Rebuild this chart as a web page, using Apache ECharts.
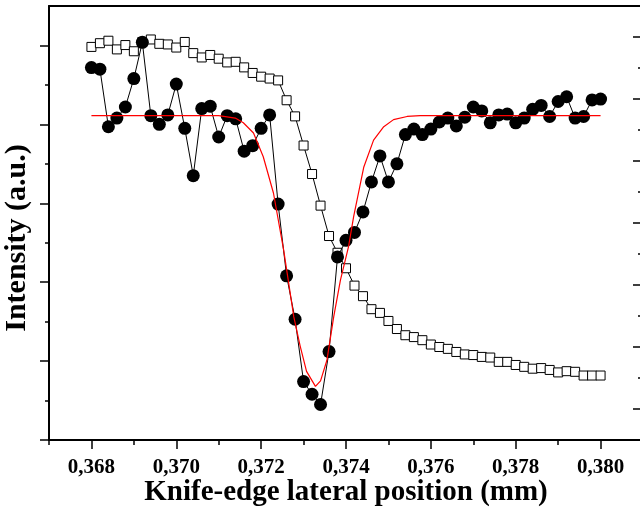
<!DOCTYPE html>
<html>
<head>
<meta charset="UTF-8">
<title>Knife-edge scan</title>
<script src="https://cdn.jsdelivr.net/npm/echarts@6/dist/echarts.min.js"></script>
<style>
  html, body { margin: 0; padding: 0; background: #fff; }
  #main { width: 640px; height: 509px; }
</style>
</head>
<body>
<div id="main"></div>
<script>
// knife-edge positions (mm), one per measured point
const xPos = [
  0.3680, 0.3682, 0.3684, 0.3686, 0.3688, 0.3690, 0.3692, 0.3694, 0.3696, 0.3698,
  0.3700, 0.3702, 0.3704, 0.3706, 0.3708, 0.3710, 0.3712, 0.3714, 0.3716, 0.3718,
  0.3720, 0.3722, 0.3724, 0.3726, 0.3728, 0.3730, 0.3732, 0.3734, 0.3736, 0.3738,
  0.3740, 0.3742, 0.3744, 0.3746, 0.3748, 0.3750, 0.3752, 0.3754, 0.3756, 0.3758,
  0.3760, 0.3762, 0.3764, 0.3766, 0.3768, 0.3770, 0.3772, 0.3774, 0.3776, 0.3778,
  0.3780, 0.3782, 0.3784, 0.3786, 0.3788, 0.3790, 0.3792, 0.3794, 0.3796, 0.3798,
  0.3800
];

// filled circles (left axis, a.u.)
const circleVals = [
  4.72, 4.70, 3.97, 4.08, 4.22, 4.58, 5.04, 4.11, 4.00, 4.12,
  4.51, 3.95, 3.35, 4.20, 4.23, 3.84, 4.11, 4.07, 3.66, 3.73,
  3.95, 4.12, 2.99, 2.08, 1.53, 0.74, 0.58, 0.45, 1.12, 2.32,
  2.53, 2.63, 2.89, 3.27, 3.60, 3.27, 3.50, 3.87, 3.94, 3.87,
  3.94, 4.03, 4.08, 3.98, 4.09, 4.22, 4.17, 4.02, 4.12, 4.13,
  4.02, 4.08, 4.19, 4.24, 4.10, 4.29, 4.35, 4.08, 4.10, 4.31,
  4.32
];

// open squares (right axis, a.u.)
const squareVals = [
  6.34, 6.40, 6.44, 6.30, 6.37, 6.27, 6.42, 6.46, 6.39, 6.38,
  6.33, 6.42, 6.24, 6.17, 6.21, 6.15, 6.09, 6.10, 6.01, 5.92,
  5.86, 5.83, 5.80, 5.48, 5.22, 4.75, 4.29, 3.78, 3.29, 3.02,
  2.77, 2.49, 2.32, 2.11, 2.05, 1.92, 1.79, 1.69, 1.66, 1.61,
  1.54, 1.50, 1.47, 1.42, 1.38, 1.37, 1.34, 1.33, 1.26, 1.26,
  1.21, 1.18, 1.15, 1.16, 1.13, 1.09, 1.11, 1.10, 1.04, 1.04,
  1.04
];

// red fit curve (left axis)
const fitX = [
  0.3680, 0.3710, 0.37139, 0.37158, 0.37182, 0.37205, 0.37229, 0.37253, 0.37277,
  0.37292, 0.37307, 0.37328, 0.37340, 0.37355, 0.37371, 0.37387, 0.37406, 0.37418,
  0.37442, 0.37465, 0.37489, 0.37512, 0.37544, 0.37575, 0.3800
];
const fitY = [
  4.11, 4.11, 4.08, 4.02, 3.89, 3.59, 3.13, 2.41, 1.56,
  1.19, 0.87, 0.68, 0.75, 1.01, 1.56, 2.03, 2.45, 2.83,
  3.46, 3.80, 3.97, 4.06, 4.10, 4.11, 4.11
];

// tick positions
const xMajor = [0.368, 0.370, 0.372, 0.374, 0.376, 0.378, 0.380];
const xMinor = [0.367, 0.369, 0.371, 0.373, 0.375, 0.377, 0.379];
const leftMajor = [0, 1, 2, 3, 4, 5];
const leftMinor = [0.5, 1.5, 2.5, 3.5, 4.5];
const rightMajor = [0.5, 1.5, 2.5, 3.5, 4.5, 5.5, 6.5];
const rightMinor = [1, 2, 3, 4, 5, 6];

const serif = "'Liberation Serif', 'Times New Roman', serif";

const chart = echarts.init(document.getElementById('main'));

function xAx(extra) {
  return Object.assign({
    type: 'value', gridIndex: 0, min: 0.367, max: 0.381,
    splitLine: { show: false },
    axisLine: { show: false, onZero: false },
    axisTick: { show: false },
    axisLabel: { show: false }
  }, extra);
}
function yAx(extra) {
  return Object.assign({
    type: 'value', splitLine: { show: false },
    axisLine: { show: false, onZero: false },
    axisTick: { show: false },
    axisLabel: { show: false }
  }, extra);
}

const option = {
  animation: false,
  backgroundColor: '#fff',
  grid: { left: 49, top: 6, width: 594, height: 434, outerBoundsMode: 'none', containLabel: false },
  xAxis: [
    xAx({
      position: 'bottom',
      axisLine: { show: true, onZero: false, lineStyle: { color: '#000', width: 2 } },
      axisTick: { show: true, customValues: xMajor, length: 9, lineStyle: { color: '#000', width: 1.5 } },
      axisLabel: {
        show: true, customValues: xMajor, margin: 17,
        color: '#000', fontFamily: serif, fontWeight: 'bold', fontSize: 21,
        formatter: v => v.toFixed(3).replace('.', ',')
      },
      name: 'Knife-edge lateral position (mm)',
      nameLocation: 'middle', nameGap: 38, nameMoveOverlap: false,
      nameTextStyle: { color: '#000', fontFamily: serif, fontWeight: 'bold', fontSize: 29 }
    }),
    xAx({
      position: 'bottom',
      axisTick: { show: true, customValues: xMinor, length: 5, lineStyle: { color: '#000', width: 1.5 } }
    }),
    xAx({
      position: 'top',
      axisLine: { show: true, onZero: false, lineStyle: { color: '#000', width: 2 } }
    })
  ],
  yAxis: [
    yAx({
      position: 'left', min: 0, max: 5.5,
      axisLine: { show: true, onZero: false, lineStyle: { color: '#000', width: 2 } },
      axisTick: { show: true, customValues: leftMajor, length: 9, lineStyle: { color: '#000', width: 1.5 } }
    }),
    yAx({
      position: 'left', min: 0, max: 5.5,
      axisTick: { show: true, customValues: leftMinor, length: 4, lineStyle: { color: '#000', width: 1.5 } }
    }),
    yAx({
      position: 'right', min: 0, max: 7,
      axisLine: { show: true, onZero: false, lineStyle: { color: '#000', width: 2 } },
      axisTick: { show: true, inside: true, customValues: rightMajor, length: 10, lineStyle: { color: '#000', width: 1.5 } }
    }),
    yAx({
      position: 'right', min: 0, max: 7,
      axisTick: { show: true, inside: true, customValues: rightMinor, length: 5, lineStyle: { color: '#000', width: 1.5 } }
    })
  ],
  graphic: [{
    type: 'text', x: 17, y: 238, rotation: Math.PI / 2,
    style: {
      text: 'Intensity (a.u.)', fill: '#000',
      fontFamily: serif, fontWeight: 'bold', fontSize: 30,
      align: 'center', verticalAlign: 'middle'
    }
  }],
  series: [
    {
      name: 'squares', type: 'line', xAxisIndex: 0, yAxisIndex: 2, z: 2,
      data: xPos.map((x, i) => [x, squareVals[i]]),
      symbol: 'rect', symbolSize: 9, showAllSymbol: true,
      lineStyle: { color: '#000', width: 1 },
      itemStyle: { color: '#fff', borderColor: '#000', borderWidth: 1 }
    },
    {
      name: 'circles', type: 'line', xAxisIndex: 0, yAxisIndex: 0, z: 3,
      data: xPos.map((x, i) => [x, circleVals[i]]),
      symbol: 'circle', symbolSize: 13, showAllSymbol: true,
      lineStyle: { color: '#000', width: 1 },
      itemStyle: { color: '#000' }
    },
    {
      name: 'fit', type: 'line', xAxisIndex: 0, yAxisIndex: 0, z: 4,
      data: fitX.map((x, i) => [x, fitY[i]]),
      symbol: 'none',
      lineStyle: { color: '#ff0000', width: 1.2 }
    }
  ]
};

chart.setOption(option);
</script>
</body>
</html>
